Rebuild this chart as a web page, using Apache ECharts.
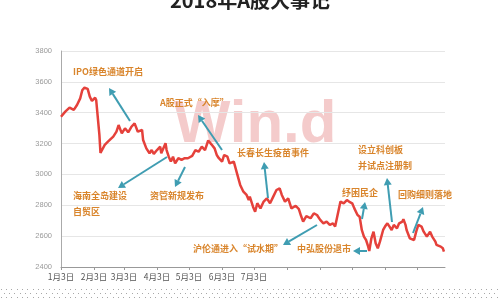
<!DOCTYPE html>
<html>
<head>
<meta charset="utf-8">
<script src="https://cdn.jsdelivr.net/npm/echarts@6/dist/echarts.min.js"></script>
<style>
html,body{margin:0;padding:0;background:#fff;}
#c{width:500px;height:300px;}
</style>
</head>
<body>
<div id="c"></div>
<script>
// ---- data ----
const dates = ['1-3','1-7','1-11','1-15','1-18','1-21','1-23','1-25','1-28','1-30','2-1','2-4','2-5','2-8','2-9','2-13','2-16','2-21','2-24','2-26',
'3-1','3-4','3-7','3-10','3-13','3-16','3-20','3-21','3-24','3-27','3-29','3-31','4-3','4-6','4-7','4-11','4-12','4-14','4-16','4-18','4-20','4-23','4-26','4-29',
'5-2','5-6','5-9','5-12','5-15','5-18','5-21','5-24','5-27','5-29','5-31','6-3','6-5','6-8','6-10','6-14','6-17','6-20','6-23','6-26','6-28','6-29',
'7-2','7-4','7-6','7-9','7-12','7-15','7-18','7-21','7-24','7-27','7-29','8-1','8-4','8-7','8-11','8-14','8-16','8-18','8-21','8-25','8-28','8-31',
'9-3','9-6','9-9','9-12','9-15','9-17','9-20','9-22','9-25','9-28','9-30','10-3','10-5','10-8','10-10','10-12','10-14','10-16','10-18','10-19','10-21','10-23','10-25','10-27','10-29',
'11-1','11-3','11-5','11-7','11-9','11-11','11-14','11-16','11-19','11-20','11-22','11-23','11-26','11-30','12-2','12-4','12-7','12-9','12-12','12-15','12-17','12-20','12-21','12-25','12-27','12-28'];
const values = [3374,3407,3433,3418,3450,3493,3547,3562,3554,3504,3476,3497,3482,3256,3139,3191,3212,3245,3277,3320,
3266,3299,3273,3309,3331,3277,3288,3223,3169,3137,3158,3133,3158,3180,3137,3202,3158,3115,3083,3115,3072,3105,3094,3105,
3105,3120,3158,3147,3180,3158,3220,3195,3169,3126,3105,3083,3126,3115,3072,3083,3007,2932,2888,2867,2834,2856,
2791,2758,2813,2780,2824,2845,2813,2856,2899,2910,2867,2824,2845,2780,2797,2775,2732,2694,2730,2716,2748,2737,
2705,2683,2694,2673,2683,2662,2759,2824,2813,2834,2824,2813,2780,2737,2726,2640,2597,2575,2532,2504,2586,2629,2554,2521,2564,
2640,2665,2683,2662,2640,2673,2651,2683,2694,2710,2673,2640,2586,2575,2629,2673,2662,2629,2597,2629,2597,2564,2543,2532,2521,2499];
const tickDates = ['1-3','2-3','3-3','4-3','5-3','6-3','7-3','8-3','9-3','10-3','11-3','12-3'];
const labelDates = ['1-3','2-3','3-3','4-3','5-3','6-3','7-3'];
const labelTexts = ['1月3日','2月3日','3月3日','4月3日','5月3日','6月3日','7月3日'];
const yTicks = [2400,2600,2800,3000,3200,3400,3600,3800];
const titleText = '2018年A股大事记';

// annotations (decoration, pixel layout)
const notes = [
  {t:'IPO绿色通道开启', x:73, y:72},
  {t:'A股正式“入摩”', x:160, y:103},
  {t:'长春长生疫苗事件', x:237, y:153},
  {t:'设立科创板', x:358, y:150},
  {t:'并试点注册制', x:358, y:166},
  {t:'纾困民企', x:342, y:193},
  {t:'回购细则落地', x:398, y:195},
  {t:'海南全岛建设', x:73, y:196},
  {t:'自贸区', x:73, y:212},
  {t:'资管新规发布', x:150, y:196},
  {t:'沪伦通进入“试水期”', x:193, y:249},
  {t:'中弘股份退市', x:297, y:249}
];
const arrows = [
  [130,121,109,88],[222,150,198,115],[268,198,264,162],[392,222,387,178],
  [362,219,365,202],[413,233,423,207],[167,157,118,188],[185,167,175,187],
  [317,225,283,245],[367,251,353,251]
];

// ---- helpers ----
const base = Date.UTC(2018,0,3);
function dayOf(s){const p=s.split('-').map(Number);return (Date.UTC(2018,p[0]-1,p[1])-base)/864e5;}
const seriesData = dates.map((d,i)=>[dayOf(d), values[i]]);
const tickDays = tickDates.map(dayOf);
const labelDays = labelDates.map(dayOf);

function arrowGraphics(a){
  const [x1,y1,x2,y2]=a, col='#3f9db2';
  const ang=Math.atan2(y2-y1,x2-x1), L=7, W=4;
  const bx=x2-L*Math.cos(ang), by=y2-L*Math.sin(ang);
  const nx=-Math.sin(ang), ny=Math.cos(ang);
  return [
    {type:'line',shape:{x1:x1,y1:y1,x2:bx,y2:by},style:{stroke:col,lineWidth:2},z:5},
    {type:'polygon',shape:{points:[[x2,y2],[bx+nx*W,by+ny*W],[bx-nx*W,by-ny*W]]},style:{fill:col},z:5}
  ];
}

// dotted pattern strip
const pc=document.createElement('canvas');pc.width=16;pc.height=8;
const pctx=pc.getContext('2d');pctx.fillStyle='#a8a8a8';
[[1,1],[6,1],[11,1],[4,5],[9,5],[14,5]].forEach(p=>pctx.fillRect(p[0],p[1],1,1));

const graphics=[];
graphics.push({type:'text',x:250,y:0,z:6,style:{text:titleText,fill:'#222',font:'bold 20px "Noto Sans CJK SC", sans-serif',textAlign:'center',textVerticalAlign:'middle'}});
graphics.push({type:'text',x:255,y:125,z:-1,style:{text:'Win.d',fill:'rgba(228,130,130,0.42)',font:'bold 60px "Liberation Sans", Arial, sans-serif',textAlign:'center',textVerticalAlign:'middle'}});
notes.forEach(n=>graphics.push({type:'text',x:n.x,y:n.y,z:6,style:{text:n.t,fill:'#d9852c',font:'bold 9px "Noto Sans CJK SC", sans-serif',textAlign:'left',textVerticalAlign:'middle'}}));
arrows.forEach(a=>graphics.push(...arrowGraphics(a)));
graphics.push({type:'rect',shape:{x:0,y:286,width:500,height:14},style:{fill:{image:pc,repeat:'repeat'}},z:6});

const chart = echarts.init(document.getElementById('c'), null, {renderer:'canvas'});
chart.setOption({
  animation:false,
  backgroundColor:'#fff',
  grid:{left:61,right:55,top:51,bottom:33},
  xAxis:{
    type:'value',min:0,max:360,
    axisLine:{show:true,lineStyle:{color:'#999',width:1}},
    axisTick:{show:true,customValues:tickDays,length:3,lineStyle:{color:'#999'}},
    axisLabel:{customValues:labelDays,margin:6,fontSize:8.5,color:'#555',fontFamily:'"Noto Sans CJK SC", sans-serif',
      formatter:function(v){const i=labelDays.indexOf(v);return i>=0?labelTexts[i]:'';}},
    splitLine:{show:false}
  },
  yAxis:{
    type:'value',min:yTicks[0],max:yTicks[yTicks.length-1],interval:200,
    axisLine:{show:true,lineStyle:{color:'#aaa',width:1}},
    axisTick:{show:false},
    axisLabel:{fontSize:7.5,color:'#999',margin:9,formatter:function(v){return String(v);}},
    splitLine:{show:true,lineStyle:{color:'#e6e6e6',width:1}}
  },
  series:[{
    type:'line',data:seriesData,showSymbol:false,z:3,
    lineStyle:{color:'#e5413b',width:2.5},
    itemStyle:{color:'#e5413b'}
  }],
  graphic:graphics
});
</script>
</body>
</html>
